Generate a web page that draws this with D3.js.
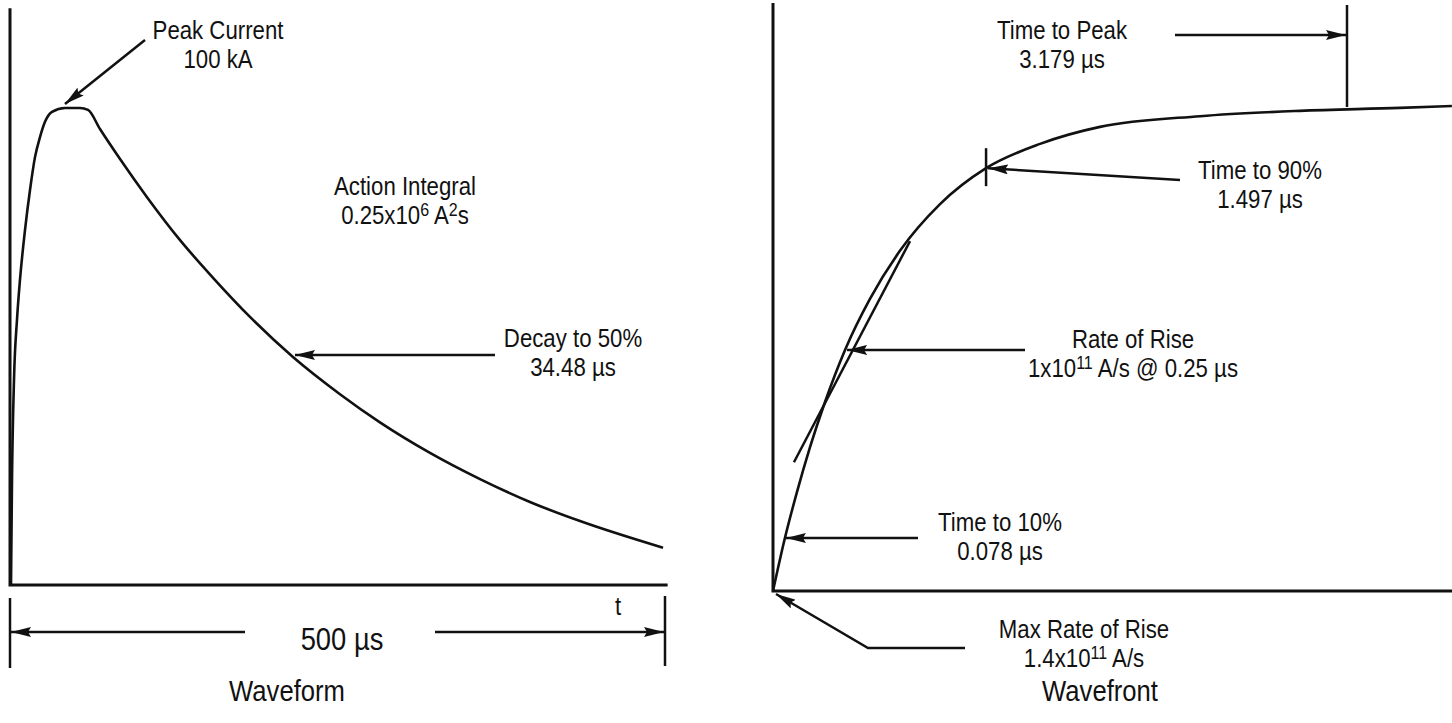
<!DOCTYPE html>
<html>
<head>
<meta charset="utf-8">
<script src="https://cdn.jsdelivr.net/npm/d3@7"></script>
<style>
  body { margin: 0; background: #fff; }
  text { font-family: "Liberation Sans", Arial, sans-serif; fill: #111; }
</style>
</head>
<body>
<script>
// Waveform (left): time in µs, current in kA
var waveformTime = [0.76, 1.53, 3.05, 5.34, 7.63, 11.45, 15.27, 19.08, 22.9, 26.72, 32.06, 41.98,
    53.44, 59.54, 68.7, 84.0, 104.6, 129.8, 155.0, 183.2, 216.0, 251.9, 282.4, 320.6, 358.8,
    396.9, 435.1, 498.5];
var waveformCurrent = [0, 22.0, 43.0, 55.6, 64.0, 74.4, 82.8, 89.7, 93.9, 97.1, 99.2, 100,
    100, 99.6, 95.6, 89.3, 81.3, 72.3, 64.4, 56.2, 47.8, 40.0, 34.1, 27.7, 22.2,
    17.4, 13.4, 7.8];

// Wavefront (right): time in µs, current in % of peak
var wavefrontTime = [0, 0.066, 0.133, 0.205, 0.288, 0.399, 0.537, 0.703, 0.925, 1.180,
    1.479, 1.811, 2.365, 2.918, 3.472, 3.760];
var wavefrontCurrent = [0, 10.9, 20.4, 29.6, 38.9, 49.6, 60.1, 70.0, 79.6, 87.0,
    92.0, 95.5, 97.7, 98.8, 99.4, 99.8];

// rate-of-rise tangent
var tangentTime = [0.116, 0.759];
var tangentCurrent = [26.5, 72.0];

var timeToPeak = 3.179;
var decayIndex = 20;   // waveform point at 50 %
var peakIndex = 11;    // waveform point under the peak arrow
var rise10Index = 1, riseIndex = 5, rise90Index = 9;   // wavefront points

var svg = d3.select('body').append('svg')
    .attr('width', 1452)
    .attr('height', 723);

svg.append('defs').append('marker')
    .attr('id', 'arrow')
    .attr('markerUnits', 'userSpaceOnUse')
    .attr('viewBox', '0 0 20 10')
    .attr('refX', 20)
    .attr('refY', 5)
    .attr('markerWidth', 20)
    .attr('markerHeight', 10)
    .attr('orient', 'auto')
  .append('path')
    .attr('d', 'M0,0 L20,5 L0,10 L3,5 Z')
    .attr('fill', '#111');

var ink = '#111';

var line = function(g, pts, w, arrow) {
    var p = g.append('path')
        .attr('d', d3.line()(pts))
        .attr('fill', 'none')
        .attr('stroke', ink)
        .attr('stroke-width', w);
    if (arrow) { p.attr('marker-end', 'url(#arrow)'); }
    return p;
};

// narrow Helvetica look: squeeze Liberation Sans horizontally
var label = function(g, x, y, lines, size) {
    size = size || 26;
    var t = g.append('g')
        .attr('transform', 'translate(' + x + ',' + y + ') scale(0.855,1)')
      .append('text')
        .attr('text-anchor', 'middle')
        .attr('font-size', size);
    lines.forEach(function(parts, i) {
        parts.forEach(function(part, j) {
            var ts = t.append('tspan').text(part.s);
            if (j === 0) { ts.attr('x', 0).attr('dy', i === 0 ? 0 : 29); }
            if (part.sup) {
                ts.attr('font-size', size * 0.72).attr('baseline-shift', '42%');
            }
        });
    });
    return t;
};
var plain = function(s) { return [{ s: s }]; };

// ---------- Waveform ----------
var x1 = d3.scaleLinear().domain([0, 500]).range([10, 665]);
var y1 = d3.scaleLinear().domain([0, 100]).range([585, 108]);
var left = svg.append('g');

line(left, [[x1(0), y1(120.9)], [x1(0), y1(0)], [x1(502), y1(0)]], 3);

left.append('path')
    .datum(d3.zip(waveformTime, waveformCurrent))
    .attr('d', d3.line()
        .x(function(d) { return x1(d[0]); })
        .y(function(d) { return y1(d[1]); })
        .curve(d3.curveMonotoneX))
    .attr('fill', 'none')
    .attr('stroke', ink)
    .attr('stroke-width', 2.6);

// 500 µs dimension
var dimY = 632;
line(left, [[x1(0), 598], [x1(0), 668]], 2.5);
line(left, [[x1(500), 596], [x1(500), 666]], 2.5);
line(left, [[245, dimY], [x1(0) + 1, dimY]], 2.5, true);
line(left, [[435, dimY], [x1(500) - 1, dimY]], 2.5, true);
label(left, 342, 650, [plain('500 µs')], 32);
label(left, 618, 615, [plain('t')], 26);
label(left, 287, 701, [plain('Waveform')], 30);

// annotations
line(left, [[145, 40], [x1(waveformTime[peakIndex]), y1(waveformCurrent[peakIndex]) - 4]], 2.5, true);
label(left, 218, 39, [plain('Peak Current'), plain('100 kA')]);
label(left, 405, 195, [plain('Action Integral'),
    [{ s: '0.25x10' }, { s: '6', sup: true }, { s: ' A' }, { s: '2', sup: true }, { s: 's' }]]);
var pDecay = [x1(waveformTime[decayIndex]), y1(waveformCurrent[decayIndex])];
line(left, [[495, pDecay[1] - 2], [pDecay[0] + 2, pDecay[1] - 2]], 2.5, true);
label(left, 573, 347, [plain('Decay to 50%'), plain('34.48 µs')]);

// ---------- Wavefront ----------
var x2 = d3.scaleLinear().domain([0, timeToPeak]).range([773, 1347]);
var y2 = d3.scaleLinear().domain([0, 100]).range([591, 105]);
var right = svg.append('g');

line(right, [[x2(0), 3], [x2(0), y2(0)], [1452, y2(0)]], 3);

right.append('path')
    .datum(d3.zip(wavefrontTime, wavefrontCurrent))
    .attr('d', d3.line()
        .x(function(d) { return x2(d[0]); })
        .y(function(d) { return y2(d[1]); })
        .curve(d3.curveMonotoneX))
    .attr('fill', 'none')
    .attr('stroke', ink)
    .attr('stroke-width', 2.6);

// tangent at rate of rise
line(right, d3.zip(tangentTime.map(x2), tangentCurrent.map(y2)), 2.5);

// time to peak marker
line(right, [[x2(timeToPeak), 5], [x2(timeToPeak), 107]], 2.5);
line(right, [[1175, 35], [x2(timeToPeak) - 1, 35]], 2.5, true);
label(right, 1062, 39, [plain('Time to Peak'), plain('3.179 µs')]);

// time to 90%
var p90 = [x2(wavefrontTime[rise90Index]), y2(wavefrontCurrent[rise90Index])];
line(right, [[p90[0], p90[1] - 20], [p90[0], p90[1] + 18]], 2.5);
line(right, [[1180, 180], [p90[0] + 2, p90[1]]], 2.5, true);
label(right, 1260, 179, [plain('Time to 90%'), plain('1.497 µs')]);

// rate of rise
var pRise = [x2(wavefrontTime[riseIndex]), y2(wavefrontCurrent[riseIndex])];
line(right, [[1025, pRise[1]], [pRise[0] + 2, pRise[1]]], 2.5, true);
label(right, 1133, 348, [plain('Rate of Rise'),
    [{ s: '1x10' }, { s: '11', sup: true }, { s: ' A/s @ 0.25 µs' }]]);

// time to 10%
var p10 = [x2(wavefrontTime[rise10Index]), y2(wavefrontCurrent[rise10Index])];
line(right, [[918, p10[1]], [p10[0] + 1, p10[1]]], 2.5, true);
label(right, 1000, 531, [plain('Time to 10%'), plain('0.078 µs')]);

// max rate of rise
line(right, [[965, 648], [868, 648], [x2(0) + 3, y2(0) + 3]], 2.5, true);
label(right, 1084, 638, [plain('Max Rate of Rise'),
    [{ s: '1.4x10' }, { s: '11', sup: true }, { s: ' A/s' }]]);
label(right, 1100, 701, [plain('Wavefront')], 30);
</script>
</body>
</html>
